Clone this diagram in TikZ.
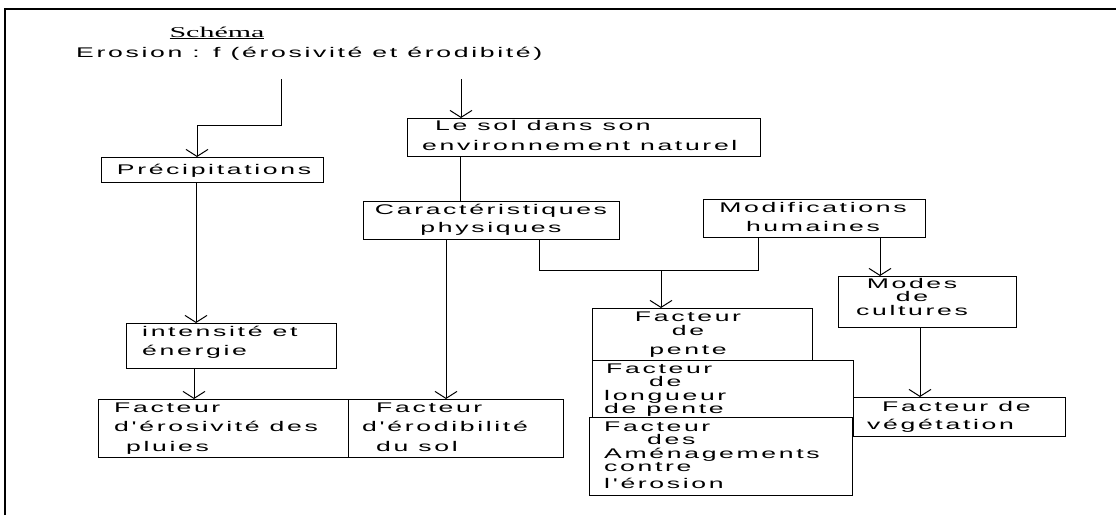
\documentclass[tikz,border=0pt]{standalone}
\usepackage{fontspec}
\usetikzlibrary{arrows.meta}
\newfontfamily\bx[FakeStretch=1.9,LetterSpace=19]{Liberation Sans}
\newfontfamily\schf[FakeStretch=2.0]{Liberation Serif}
\newcommand\fs{\rule{0pt}{11.5pt}}
\newcommand\tightlines{\lineskiplimit=-20pt\relax}
\begin{document}
\begin{tikzpicture}[x=1pt,y=-1pt,
  box/.style={draw,line width=1pt,inner sep=0pt,anchor=north west},
  txt/.style={inner sep=0pt,font=\bx\fontsize{14}{#1}\selectfont\tightlines},
  txt/.default=14,
  ln/.style={line width=1pt},
  arr/.style={ln,-{Straight Barb[length=7pt,width=22pt,line width=1pt]}}]
\useasboundingbox (0,0) rectangle (1116,515);
% frame
\draw[line width=2.4pt] (5,515) -- (5,9) -- (1116,9);
% titles
\node[inner sep=0pt,anchor=base,font=\schf\fontsize{15}{15}\selectfont] (sch) at (217,37) {\underline{Schéma}};
\node[txt,anchor=base west] (ero) at (76,57) {Erosion : f (érosivité et érodibité)};
% boxes
\node[box,minimum width=222pt,minimum height=25pt] (precip) at (101,157) {};
\node[box,minimum width=210pt,minimum height=45pt] (intens) at (126,323) {};
\node[box,minimum width=250pt,minimum height=58pt] (erosiv) at (98,399) {};
\node[box,minimum width=215pt,minimum height=58pt] (erodib) at (348,399) {};
\node[box,minimum width=353pt,minimum height=38pt] (lesol) at (407,118) {};
\node[box,minimum width=256pt,minimum height=38pt] (carac) at (363,201) {};
\node[box,minimum width=222pt,minimum height=38pt] (modif) at (703,199) {};
\node[box,minimum width=178pt,minimum height=51pt] (modes) at (838,276) {};
\node[box,minimum width=212pt,minimum height=39pt] (veget) at (853,397) {};
\node[box,minimum width=220pt,minimum height=52pt] (pente) at (592,308) {};
\node[box,minimum width=261pt,minimum height=57pt] (longu) at (592,360) {};
\node[box,minimum width=263pt,minimum height=78pt] (amen) at (589,417) {};
% texts
\node[txt,anchor=north] (tprecip) at (214,162.5) {\fs Précipitations};
\node[txt=19,align=left,anchor=north west] (tintens) at (142,324.5) {\fs intensité et\\énergie};
\node[txt=19.5,align=left,anchor=north west] (terosiv) at (114,400.5) {\fs Facteur\\d'érosivité des\\\hspace*{12pt}pluies};
\node[txt=19.5,align=left,anchor=north west] (terodib) at (362,400.5) {\fs\hspace*{14pt}Facteur\\d'érodibilité\\\hspace*{14pt}du sol};
\node[txt=20,align=left,anchor=north west] (tlesol) at (422,118.5) {\fs\hspace*{13pt}Le sol dans son\\environnement naturel};
\node[txt=18,align=center,anchor=north] (tcarac) at (491,202.5) {\fs Caractéristiques\\physiques};
\node[txt=19,align=center,anchor=north] (tmodif) at (813,200.5) {\fs Modifications\\humaines};
\node[txt=13.5,align=center,anchor=north] (tmodes) at (912,276.5) {\fs Modes\\de\\cultures};
\node[txt=18,align=left,anchor=north west] (tveget) at (867,399.5) {\fs\hspace*{15pt}Facteur de\\végétation};
\node[txt=14,align=center,anchor=north] (tpente) at (688,309.5) {\fs Facteur\\de\\[5pt]pente};
\node[txt=13.5,align=left,anchor=north west] (tlongu) at (604,361.5) {\fs\hspace*{2pt}Facteur\\\hspace*{45pt}de\\longueur\\de pente};
\node[txt=13.5,align=left,anchor=north west] (tamen) at (604,419.5) {\fs Facteur\\\hspace*{43pt}des\\Aménagements\\contre\\[3pt]l'érosion};
% connectors
\coordinate (e1) at (281,79);
\coordinate (e2) at (461,79);
\coordinate (j) at (661,270);
\draw[arr] (e1) |- (197,125) -- (197,0 |- precip.north);
\draw[arr] (196,0 |- precip.south) -- (196,0 |- intens.north);
\draw[arr] (194,0 |- intens.south) -- (194,0 |- erosiv.north);
\draw[arr] (e2) -- (e2 |- lesol.north);
\draw[ln] (460,0 |- lesol.south) -- (460,0 |- carac.north);
\draw[arr] (446,0 |- carac.south) -- (446,0 |- erodib.north);
\draw[ln] (539,0 |- carac.south) |- (758,270) -- (758,0 |- modif.south);
\draw[arr] (j) -- (j |- pente.north);
\draw[arr] (880,0 |- modif.south) -- (880,0 |- modes.north);
\draw[arr] (920,0 |- modes.south) -- (920,0 |- veget.north);
\end{tikzpicture}
\end{document}
